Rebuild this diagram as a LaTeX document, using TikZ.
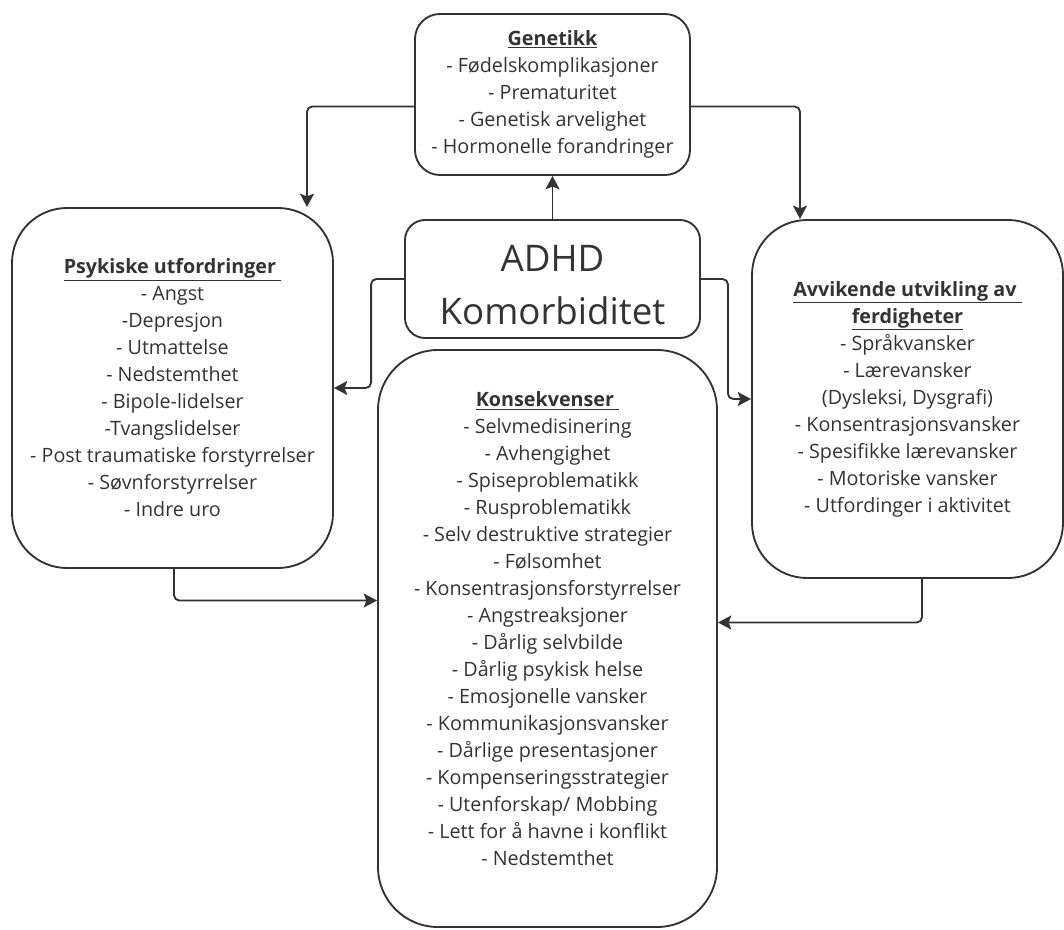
\documentclass[tikz,border=0pt]{standalone}
\usepackage{fontspec}
\setmainfont{Open Sans}
\usetikzlibrary{arrows.meta,calc}
\definecolor{linegray}{RGB}{51,51,51}
\begin{document}
\begin{tikzpicture}[x=0.75pt,y=-0.75pt,
    box/.style={draw=linegray,line width=1.4pt,align=center,inner sep=0pt,text=linegray,
      font=\fontsize{14.8}{20.25}\selectfont},
    conn/.style={draw=linegray,line width=1.4pt,rounded corners=4pt,
      -{Stealth[length=10pt,width=10.5pt,inset=2pt]}}]
    \useasboundingbox (0,0) rectangle (1064,929);

    % Boxes
    \node (gen) [box,minimum width=206.25pt,minimum height=120.75pt,rounded corners=18.75pt] at (552.5,94.5)
      {\underline{\textbf{Genetikk}}\\
       - Fødelskomplikasjoner\\
       - Prematuritet\\
       - Genetisk arvelighet\\
       - Hormonelle forandringer};
    \node (adhd) [box,minimum width=221.25pt,minimum height=88.5pt,rounded corners=15pt,
      font=\fontsize{27.5}{40}\selectfont] at (552.5,279)
      {\strut\\[-39pt]ADHD\\ Komorbiditet};
    \node (psyk) [box,minimum width=240.75pt,minimum height=270pt,rounded corners=41.25pt] at (172.5,388)
      {\underline{\textbf{Psykiske utfordringer}\ }\\
       - Angst\\
       -Depresjon\\
       - Utmattelse\\
       - Nedstemthet\\
       - Bipole-lidelser\\
       -Tvangslidelser\\
       - Post traumatiske forstyrrelser\\
       - Søvnforstyrrelser\\
       - Indre uro};
    \node (avvik) [box,minimum width=233.25pt,minimum height=268.5pt,rounded corners=41.25pt] at (907.5,399)
      {\underline{\textbf{Avvikende utvikling av}\ }\\
       \underline{\textbf{ferdigheter}}\\
       - Språkvansker\\
       - Lærevansker\\
       (Dysleksi, Dysgrafi)\\
       - Konsentrasjonsvansker\\
       - Spesifikke lærevansker\\
       - Motoriske vansker\\
       - Utfordinger i aktivitet};
    \node (kons) [box,minimum width=254.25pt,minimum height=432.75pt,rounded corners=45pt] at (547.5,638.5)
      {\underline{\textbf{Konsekvenser}\ }\\
       - Selvmedisinering\\
       - Avhengighet\\
       - Spiseproblematikk\\
       - Rusproblematikk\\
       - Selv destruktive strategier\\
       - Følsomhet\\
       - Konsentrasjonsforstyrrelser\\
       - Angstreaksjoner\\
       - Dårlig selvbilde\\
       - Dårlig psykisk helse\\
       - Emosjonelle vansker\\
       - Kommunikasjonsvansker\\
       - Dårlige presentasjoner\\
       - Kompenseringsstrategier\\
       - Utenforskap/ Mobbing\\
       - Lett for å havne i konflikt\\
       - Nedstemthet\\[-12pt]\strut};

    % Connectors
    \draw [conn] (adhd.north) -- (gen.south);
    \draw [conn] ($(gen.west)+(0,12)$) -| ($(psyk.north)+(134.5,0)$);
    \draw [conn] ($(gen.east)+(0,12)$) -| ($(avvik.north)+(-107.5,0)$);
    \draw [conn] (adhd.west) -- ++(-33,0) |- (psyk.east);
    \draw [conn] (adhd.east) -- ++(27,0) |- (avvik.west);
    \draw [conn] ($(psyk.south)+(1.5,0)$) |- ($(kons.west)+(0,-38)$);
    \draw [conn] ($(avvik.south)+(14.5,0)$) |- ($(kons.east)+(0,-16)$);
\end{tikzpicture}
\end{document}
